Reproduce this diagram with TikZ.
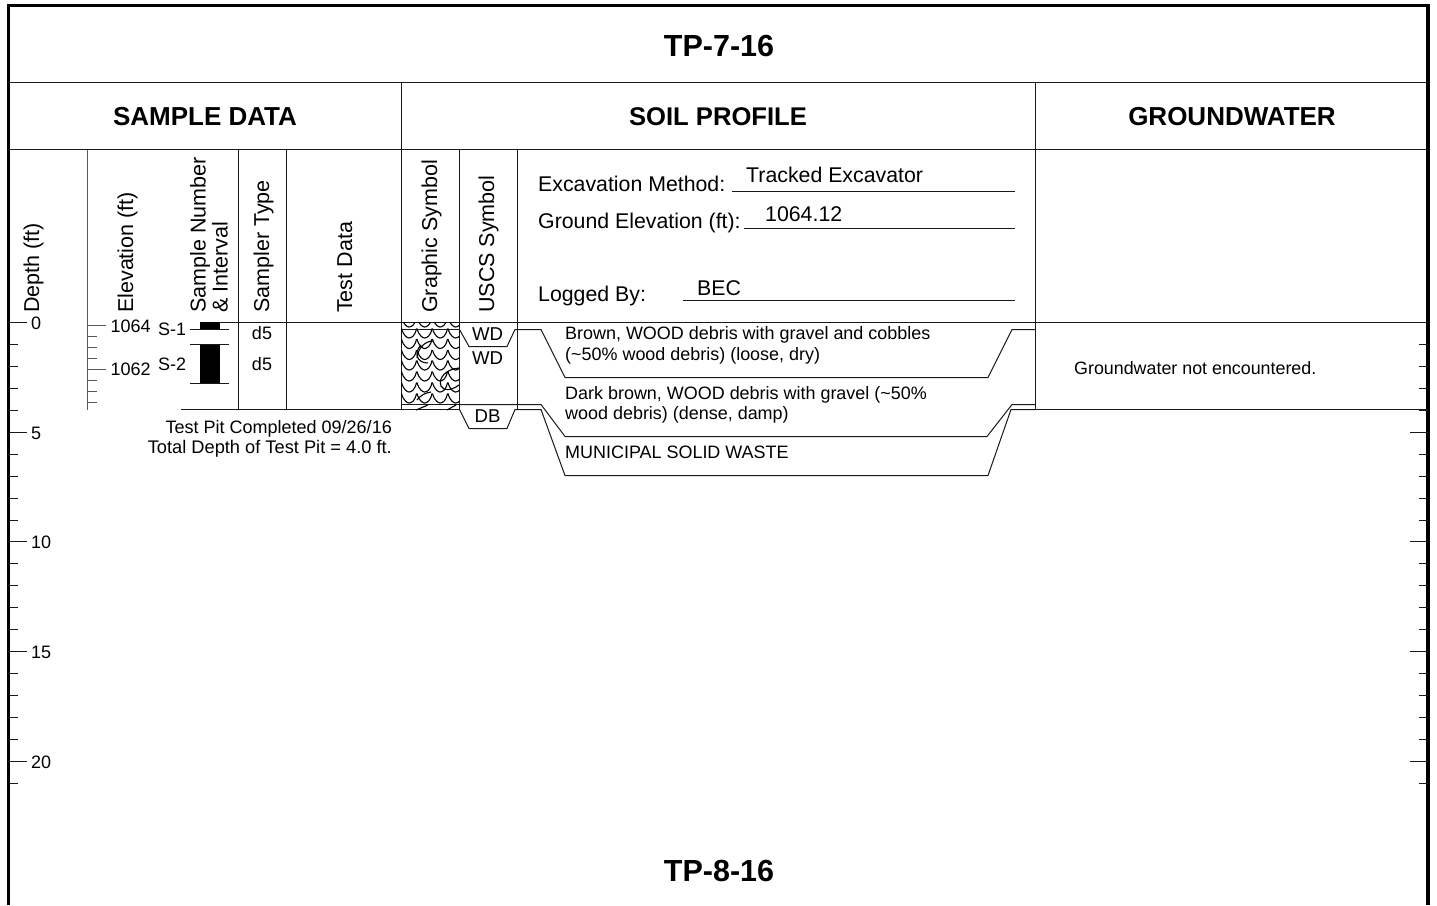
\documentclass[tikz,border=0pt]{standalone}
\usepackage{fontspec}
\setmainfont{Liberation Sans}
\usetikzlibrary{positioning}
\tikzset{
  title/.style={font=\fontsize{30.5}{32}\selectfont\bfseries, inner sep=0pt},
  band/.style={font=\fontsize{26}{28}\selectfont\bfseries, inner sep=0pt},
  head/.style={font=\fontsize{21.5}{21}\selectfont, inner sep=0pt, rotate=90, anchor=base west},
  field/.style={font=\fontsize{21.3}{24}\selectfont, inner sep=0pt, anchor=base west},
  small/.style={font=\fontsize{18}{20}\selectfont, inner sep=0pt},
  soil/.style={font=\fontsize{17.95}{20}\selectfont, inner sep=0pt, anchor=west},
  uscs/.style={font=\fontsize{18.6}{20}\selectfont, inner sep=0pt},
  rule/.style={line width=1pt, black!90},
  scale rule/.style={line width=1pt, black!65},
  wood/.style={line width=1.1pt},
}
\begin{document}
\begin{tikzpicture}[x=1pt, y=-1pt]
  \useasboundingbox (0,0) rectangle (1437,905);
  \def\topY{322.5}
  \def\endY{409.5}

  % Outer frame, open at the bottom
  \draw[line width=3.5pt, miter limit=10] (8.7,905) -- (8.7,5.5) -- (1428,5.5) -- (1428,905);

  % Header rows
  \draw[rule] (8.7,82.5) -- (1428,82.5);
  \draw[rule] (8.7,149.5) -- (1428,149.5);
  \draw[rule] (200,\topY) -- (1428,\topY);
  \draw[rule] (181,\endY) -- (459.5,\endY);
  \draw[rule] (1035.5,\endY) -- (1428,\endY);

  % Column lines
  \draw[scale rule] (87.5,149.5) -- (87.5,\endY);
  \foreach \x in {238.5,286.5,459.5,517.5} {
    \draw[rule] (\x,149.5) -- (\x,\endY);
  }
  \foreach \x in {401.5,1035.5} {
    \draw[rule] (\x,82.5) -- (\x,\endY);
  }

  % Titles
  \node[title] (top title) at (719,46) {TP-7-16};
  \node[title] (next title) at (719,871) {TP-8-16};
  \node[band] (sample band) at (205,116.5) {SAMPLE DATA};
  \node[band, font=\fontsize{25.6}{28}\selectfont\bfseries] (soil band) at (718,116.5) {SOIL PROFILE};
  \node[band] (water band) at (1232,116.5) {GROUNDWATER};

  % Column headings
  \node[head] (depth head) at (39,313) {Depth (ft)};
  \node[head] (elev head) at (133,313) {Elevation (ft)};
  \node[head] (number head) at (205.5,313) {Sample Number};
  \node[head] (interval head) at (227.5,313) {\& Interval};
  \node[head] (type head) at (269,313) {Sampler Type};
  \node[head] (test head) at (352,313) {Test Data};
  \node[head] (graphic head) at (437,313) {Graphic Symbol};
  \node[head] (uscs head) at (494,313) {USCS Symbol};

  % Excavation fields
  \node[field] (method) at (538,191) {Excavation Method:};
  \node[field] (method val) at (746,182) {Tracked Excavator};
  \node[field] (ground) at (538,228) {Ground Elevation (ft):};
  \node[field] (ground val) at (765,221) {1064.12};
  \node[field] (logged) at (538,301) {Logged By:};
  \node[field] (logged val) at (697,295) {BEC};
  \draw[rule] (732,191.5) -- (1015,191.5);
  \draw[rule] (744,228.5) -- (1015,228.5);
  \draw[rule] (683,300.5) -- (1015,300.5);

  % Depth scale on both sides
  \foreach \n in {0,...,21} {
    \pgfmathsetmacro{\tickY}{round(322+21.95*\n)+0.5}
    \draw[rule] (8.7,\tickY) -- (18,\tickY);
    \draw[rule] (1419,\tickY) -- (1428,\tickY);
  }
  \foreach \d in {0,5,10,15,20} {
    \pgfmathsetmacro{\tickY}{round(322+21.95*\d)+0.5}
    \draw[rule] (8.7,\tickY) -- (27,\tickY);
    \draw[rule] (1410,\tickY) -- (1428,\tickY);
    \node[small, anchor=west] (depth \d) at (31,\tickY+1) {\d};
  }

  % Elevation scale
  \foreach \n in {0,...,7} {
    \pgfmathsetmacro{\tickY}{325.5+11*\n}
    \draw[scale rule] (87.5,\tickY) -- (97,\tickY);
  }
  \draw[scale rule] (87.5,325.5) -- (106,325.5);
  \draw[scale rule] (87.5,369.5) -- (106,369.5);
  \node[small, anchor=west] (elev top) at (110.5,326) {1064};
  \node[small, anchor=west] (elev low) at (110.5,369.5) {1062};

  % Sample bars
  \fill (200,322) rectangle (220,329.5);
  \fill (200,344.5) rectangle (220,383);
  \foreach \y in {329.5,344.5,383.5} {
    \draw[rule] (190,\y) -- (229,\y);
  }
  \node[small, anchor=west] (first sample) at (158,329) {S-1};
  \node[small, anchor=west] (second sample) at (158,364.5) {S-2};
  \node[small] (first type) at (262,333) {d5};
  \node[small] (second type) at (262,364.5) {d5};

  % Completion note
  \node[small, anchor=east] (completed) at (392,429) {Test Pit Completed 09/26/16};
  \node[small, anchor=east, font=\fontsize{18.25}{20}\selectfont] (total) at (392,448.5) {Total Depth of Test Pit = 4.0 ft.};

  % Wood graphic symbol
  \begin{scope}
    \clip (401,322) rectangle (459,410);
    \foreach \y in {327,338,348.5,359.5,370,381,392,403} {
      \foreach \x in {401.5,416.5,432,447.5,463} {
        \draw[wood] (\x-15,\y-9.5) .. controls (\x-13,\y-2) and (\x-9,\y) .. (\x-7.5,\y)
          .. controls (\x-5,\y) and (\x-1.5,\y-2) .. (\x,\y-9.5);
      }
    }
    \draw[wood] (417,358) .. controls (418,347) and (426,341) .. (433,341);
    \draw[wood] (421,345) .. controls (414,352) and (416,363) .. (428,363);
    \draw[wood] (459,368) .. controls (446,369) and (438,378) .. (441,386)
      .. controls (444,392) and (452,390) .. (459,385);
    \draw[wood] (417,400) .. controls (421,395) and (425,393) .. (431,392);
    \draw[wood] (416,410) -- (428,405);
    \draw[wood] (447,410) -- (456,405);
  \end{scope}
  \draw[rule] (401.5,329.5) -- (459.5,329.5);
  \draw[rule] (401.5,404.5) -- (459.5,404.5);

  % USCS brackets and strata lines
  \draw[rule] (459.5,329.5) -- (469,346.5) -- (507,346.5) -- (515,329.5) -- (541,329.5) -- (565,377.5) -- (988,377.5) -- (1012,329.5) -- (1035.5,329.5);
  \draw[rule] (459.5,404.5) -- (541,404.5) -- (565,436.5) -- (987,436.5) -- (1012,404.5) -- (1035.5,404.5);
  \draw[rule] (459.5,409.5) -- (469,428.5) -- (507,428.5) -- (515,409.5) -- (541,409.5) -- (565,475.5) -- (988,475.5) -- (1011,409.5) -- (1035.5,409.5);

  % USCS labels
  \node[uscs] (wood one) at (487.5,334) {WD};
  \node[uscs] (wood two) at (487.5,358) {WD};
  \node[uscs] (debris) at (487.5,416.5) {DB};

  % Soil descriptions
  \node[soil] (brown a) at (565,335) {Brown, WOOD debris with gravel and cobbles};
  \node[soil] (brown b) at (565,355.5) {(\textasciitilde50\% wood debris) (loose, dry)};
  \node[soil] (dark a) at (565,395) {Dark brown, WOOD debris with gravel (\textasciitilde50\%};
  \node[soil] (dark b) at (565,415) {wood debris) (dense, damp)};
  \node[soil] (waste) at (565,452) {MUNICIPAL SOLID WASTE};

  % Groundwater note
  \node[soil, font=\fontsize{17.85}{20}\selectfont] (water note) at (1074,368.5) {Groundwater not encountered.};
\end{tikzpicture}
\end{document}
